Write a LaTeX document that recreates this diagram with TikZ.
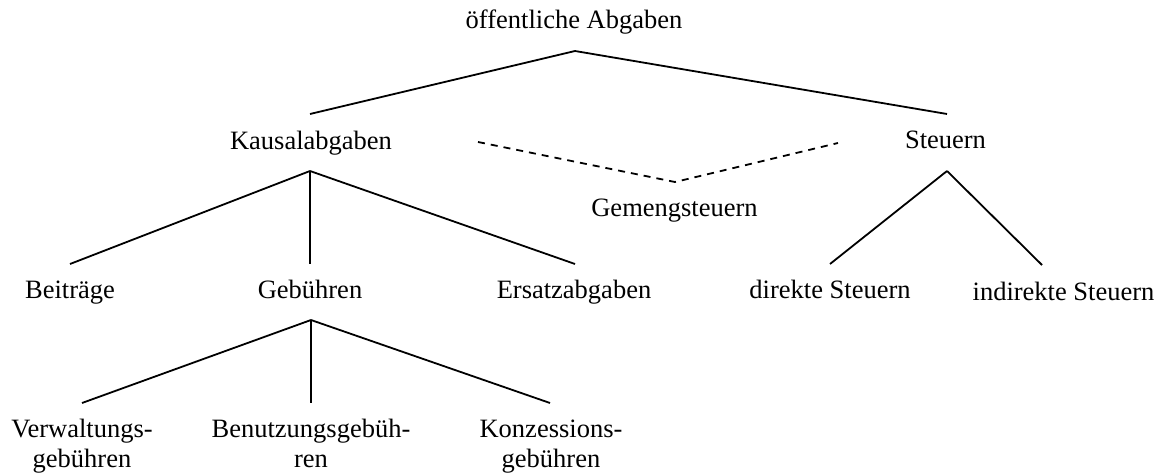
\documentclass[tikz,border=0pt]{standalone}
\usepackage{fontspec}
\setmainfont{Liberation Serif}
\begin{document}
\begin{tikzpicture}[x=1pt,y=-1pt,
  lbl/.style={anchor=base,inner sep=0pt,font=\fontsize{26.5}{30}\selectfont},
  conn/.style={line width=1.8pt,line join=miter},
  dconn/.style={conn,dash pattern=on 7pt off 6pt}]
\useasboundingbox (0,0) rectangle (1161,473);
% labels
\node[lbl] (oa) at (574,29) {öffentliche Abgaben};
\node[lbl] (ka) at (311,150) {Kausalabgaben};
\node[lbl] (st) at (945.5,149) {Steuern};
\node[lbl] (gs) at (674.5,216) {Gemengsteuern};
\node[lbl] (be) at (70,298) {Beiträge};
\node[lbl] (ge) at (310,298) {Gebühren};
\node[lbl] (ea) at (574,298) {Ersatzabgaben};
\node[lbl] (ds) at (830,298) {direkte Steuern};
\node[lbl] (is) at (1063.5,300) {indirekte Steuern};
\node[lbl] (vg) at (82,437) {\begin{tabular}[t]{@{}c@{}}Verwaltungs-\\gebühren\end{tabular}};
\node[lbl] (bg) at (311,437) {\begin{tabular}[t]{@{}c@{}}Benutzungsgebüh-\\ren\end{tabular}};
\node[lbl] (kg) at (551,437) {\begin{tabular}[t]{@{}c@{}}Konzessions-\\gebühren\end{tabular}};
% connector ends
\coordinate (oaB) at (575,51);
\coordinate (kaT) at (310,114);
\coordinate (stT) at (947,114);
\coordinate (kaB) at (310,171);
\coordinate (beT) at (70,264);
\coordinate (geT) at (310,264);
\coordinate (eaT) at (575,264);
\coordinate (stB) at (947,171);
\coordinate (dsT) at (830,264);
\coordinate (isT) at (1042,265);
\coordinate (dL) at (478,142);
\coordinate (gsT) at (675,182);
\coordinate (dR) at (838,143);
\coordinate (geB) at (311,320);
\coordinate (vgT) at (82,403);
\coordinate (bgT) at (311,403);
\coordinate (kgT) at (550,403);
% connectors
\draw[conn] (kaT) -- (oaB) -- (stT);
\draw[conn] (kaB) -- (beT);
\draw[conn] (kaB) -- (geT);
\draw[conn] (kaB) -- (eaT);
\draw[conn] (stB) -- (dsT);
\draw[conn] (stB) -- (isT);
\draw[dconn] (dL) -- (gsT) -- (dR);
\draw[conn] (geB) -- (vgT);
\draw[conn] (geB) -- (bgT);
\draw[conn] (geB) -- (kgT);
\end{tikzpicture}
\end{document}
